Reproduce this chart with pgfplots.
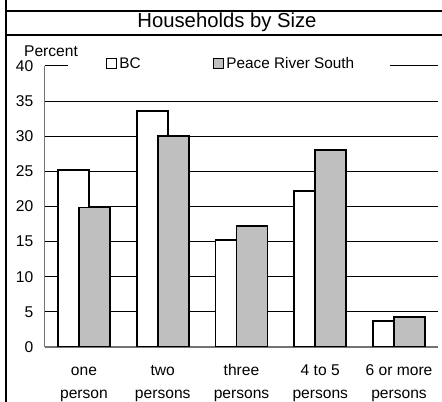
\documentclass[border=0pt]{standalone}
\usepackage{pgfplots}
\pgfplotsset{compat=1.18}
\usepackage{fontspec}
\setmainfont{Liberation Sans}
\begin{document}
\begin{tikzpicture}[x=0.75pt,y=0.75pt]
\useasboundingbox (0,0) rectangle (442,402);
\draw[line width=1.5pt] (5.5,402) -- (5.5,0);
\draw[line width=1.5pt] (5,391) -- (442,391);
\draw[line width=0.8pt] (5,367) -- (442,367);
\node[font=\fontsize{15.2}{18}\selectfont] at (227,380) {Households by Size};
\node[font=\fontsize{11.7}{13.5}\selectfont] at (51,351) {Percent};
\begin{axis}[at={(33.45pt,41.25pt)}, anchor=south west, scale only axis,
  width=295.35pt, height=210.75pt,
  xmin=-0.5, xmax=4.5, ymin=0, ymax=40,
  xtick={0,...,4},
  xticklabels={\strut one\\person, \strut two\\persons, \strut three\\persons, \strut 4 to 5\\persons, \strut 6 or more\\persons},
  ytick={0,5,...,35}, extra y ticks={40}, extra y tick style={grid=none},
  ymajorgrids, grid style={black, line width=0.75pt},
  axis x line*=bottom, axis y line*=left,
  axis line style={black!55, line width=1pt, -},
  major tick length=0pt,
  tick label style={font=\fontsize{11.7}{13.5}\selectfont},
  xticklabel style={align=center, anchor=north, yshift=-6pt, font=\fontsize{11.7}{17}\selectfont},
  yticklabel style={xshift=-5pt},
  /pgf/number format/assume math mode=true,
  legend columns=2,
  legend style={at={(0.156,1.008)}, anchor=west, draw=none, fill=none, inner sep=0pt,
    font=\fontsize{11.5}{13.5}\selectfont,
    nodes={inner sep=1.5pt},
    /tikz/every even column/.append style={column sep=53pt}},
]
\addplot[ybar, bar width=23.25pt, bar shift=-7.875pt, fill=white, draw=black, line width=1.3pt,
  legend image code/.code={\draw[fill=white,draw=black,line width=0.8pt] (0pt,-3.75pt) rectangle (7.5pt,3.75pt);}]
  coordinates {(0,25.2) (1,33.55) (2,15.2) (3,22.25) (4,3.75)};
\addplot[ybar, bar width=23.25pt, bar shift=7.875pt, fill=black!25, draw=black, line width=1.3pt,
  legend image code/.code={\draw[fill=black!25,draw=black,line width=0.8pt] (0pt,-3.75pt) rectangle (7.5pt,3.75pt);}]
  coordinates {(0,19.85) (1,30.0) (2,17.2) (3,28.0) (4,4.3)};
\legend{BC, Peace River South}
\draw[black, line width=0.75pt] (axis cs:-0.5,40) -- (axis cs:-0.203,40);
\draw[black, line width=0.75pt] (axis cs:3.886,40) -- (axis cs:4.5,40);
\end{axis}
\end{tikzpicture}
\end{document}
